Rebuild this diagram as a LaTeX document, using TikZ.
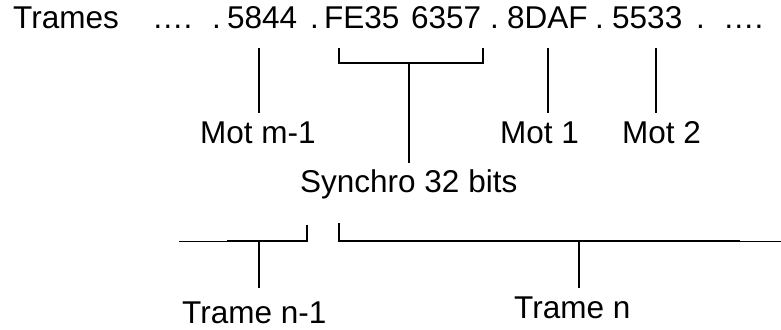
\documentclass[tikz,border=0pt]{standalone}
\usepackage{fontspec}
\setmainfont{Liberation Sans}
\begin{document}
\begin{tikzpicture}[x=1pt,y=-1pt,
  txt/.style={anchor=base west,inner sep=0pt,font=\fontsize{31.5}{36}\selectfont},
  tick/.style={line width=2.2pt},
  thin/.style={line width=1pt},
  thick/.style={line width=2.4pt}]
\useasboundingbox (0,0) rectangle (781,329);
% top row
\node[txt] (trames) at (13,29) {Trames};
\node[txt] (ell1) at (152,29) {….};
\node[txt] (d1) at (212,29) {.};
\node[txt] (w5844) at (227,29) {5844};
\node[txt] (d2) at (310,29) {.};
\node[txt] (wFE35) at (324,29) {FE35};
\node[txt] (w6357) at (411,29) {6357};
\node[txt] (d3) at (490,29) {.};
\node[txt] (w8DAF) at (507,29) {8DAF};
\node[txt] (d4) at (595,29) {.};
\node[txt] (w5533) at (612,29) {5533};
\node[txt] (d5) at (696,29) {.};
\node[txt] (ell2) at (723,29) {….};
% labels
\node[txt] (motm1) at (200,143) {Mot m-1};
\node[txt] (mot1) at (500,143) {Mot 1};
\node[txt] (mot2) at (622,143) {Mot 2};
\node[txt] (synchro) at (300,192) {Synchro 32 bits};
\node[txt] (tramen1) at (182,323) {Trame n-1};
\node[txt] (tramen) at (514,318) {Trame n};
% tick coordinates
\coordinate (a1) at (259,48); \coordinate (a2) at (259,113);
\coordinate (b1) at (548,48); \coordinate (b2) at (548,113);
\coordinate (c1) at (656,48); \coordinate (c2) at (656,113);
\coordinate (sL) at (339,48); \coordinate (sR) at (483,48);
\coordinate (sM) at (409,63); \coordinate (sE) at (409,163);
% connectors top
\draw[tick] (a1) -- (a2);
\draw[tick] (b1) -- (b2);
\draw[tick] (c1) -- (c2);
\draw[tick] (sL) |- (sR |- sM) -- (sR);
\draw[tick] (sM) -- (sE);
% bottom frames
\coordinate (f0) at (179,241);
\coordinate (f1) at (227,241);
\coordinate (f2) at (307,241);
\coordinate (f2t) at (307,225);
\coordinate (g0) at (339,223);
\coordinate (g1) at (339,241);
\coordinate (g2) at (740,241);
\coordinate (g3) at (781,241);
\coordinate (t1a) at (259,241); \coordinate (t1b) at (259,288);
\coordinate (t2a) at (579,241); \coordinate (t2b) at (579,288);
\draw[thin] (f0) -- (f1);
\draw[thick] (f1) -- (f2) -- (f2t);
\draw[thick] (g0) -- (g1) -- (g2);
\draw[thin] (g2) -- (g3);
\draw[tick] (t1a) -- (t1b);
\draw[tick] (t2a) -- (t2b);
\end{tikzpicture}
\end{document}
